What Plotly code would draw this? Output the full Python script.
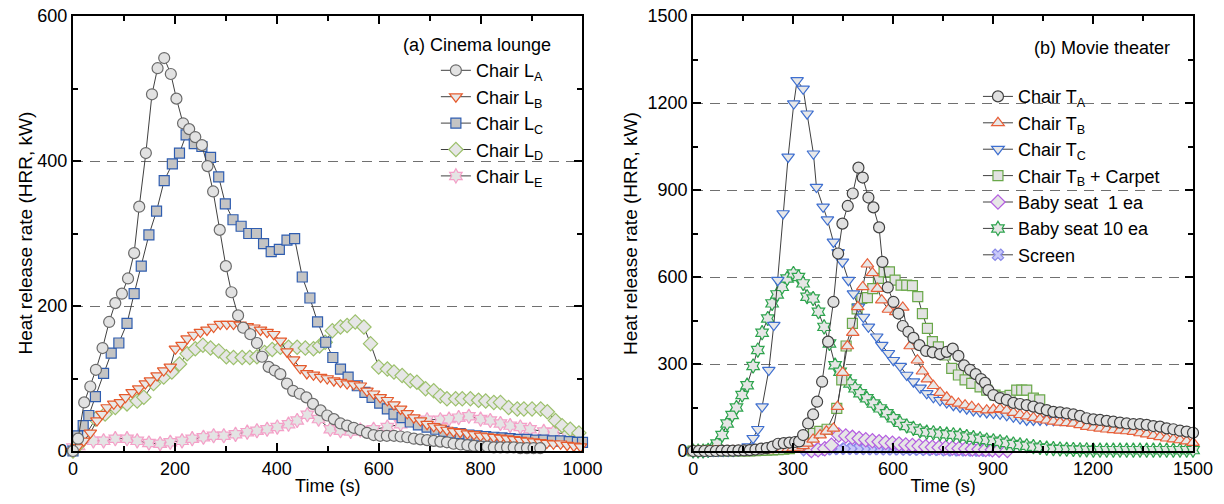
import plotly.graph_objects as go

# ---------------- (a) Cinema lounge : (time s, HRR kW) ----------------
chair_LA = [(0,0),(10,17),(22,67),(34,89),(45,112),(58,142),(71,178),(83,204),(96,217),(108,238),
            (120,273),(130,337),(143,411),(155,492),(166,528),(179,542),(192,520),(203,486),(216,452),
            (228,444),(240,433),(253,422),(264,393),(275,358),(288,305),(300,255),(311,219),(324,187),
            (334,170),(348,161),(361,149),(371,130),(384,116),(396,111),(407,106),(420,93),(432,83),
            (445,79),(458,74),(471,65),(486,56),(499,49),(512,44),(525,38),(538,35),(551,32),(564,29),
            (577,25),(590,22),(603,21),(616,21),(630,21),(643,20),(656,19),(669,17),(682,16),(695,15),
            (708,14),(721,13),(734,12),(747,10),(761,9),(774,8),(787,7),(800,6),(813,6),(826,5),
            (839,5),(852,5),(865,5),(878,4),(891,4),(904,4),(917,4)]
chair_LB = [(0,0),(8,5),(21,14),(34,25),(47,42),(57,51),(67,60),(80,65),(93,67),(103,74),(116,81),
            (129,86),(142,93),(152,97),(165,104),(178,111),(191,116),(201,141),(214,146),(224,155),
            (237,160),(250,164),(263,167),(276,171),(289,175),(302,175),(315,175),(328,174),(342,172),
            (355,170),(368,167),(381,164),(394,161),(407,152),(420,137),(433,126),(446,114),(459,107),
            (472,105),(486,102),(499,100),(512,97),(525,95),(538,93),(551,92),(564,90),(577,83),
            (590,79),(603,74),(617,70),(630,64),(643,58),(656,52),(669,46),(682,42),(695,37),(708,34),
            (721,32),(734,29),(747,27),(760,26),(774,24),(787,23),(800,21),(813,20),(826,19),(839,18),
            (852,17),(865,16),(878,15),(891,14),(904,13),(917,12),(930,11),(943,10),(957,10),(970,8),
            (983,7),(996,6)]
chair_LC = [(0,0),(9,21),(20,35),(31,49),(44,75),(60,107),(75,135),(90,149),(106,176),(120,217),
            (134,255),(149,298),(164,331),(179,373),(195,396),(209,411),(222,436),(238,424),(253,420),
            (270,405),(286,378),(299,341),(314,319),(330,310),(345,300),(360,300),(374,286),(389,275),
            (405,278),(420,291),(435,293),(450,240),(465,211),(480,178),(496,150),(510,129),(525,113),
            (540,102),(558,90),(573,81),(587,74),(602,66),(617,58),(630,51),(646,46),(662,40),(678,36),
            (695,33),(712,30),(728,27),(744,25),(760,24),(777,22),(793,21),(810,20),(826,19),(842,18),
            (858,17),(875,16),(891,16),(908,15),(924,15),(941,14),(957,14),(974,13),(990,12),(1000,12)]
chair_LD = [(0,0),(10,8),(24,21),(44,44),(63,51),(83,60),(106,65),(126,69),(139,74),(158,93),
            (178,102),(194,109),(209,120),(224,134),(240,141),(255,146),(270,142),(286,138),(301,130),
            (315,129),(332,129),(347,129),(361,130),(376,136),(391,140),(407,143),(423,143),(440,143),
            (456,142),(472,141),(484,145),(495,150),(509,166),(525,171),(538,173),(554,178),(571,171),
            (584,148),(600,116),(617,113),(630,109),(646,104),(662,97),(675,95),(692,86),(708,83),
            (721,76),(734,72),(751,72),(764,72),(780,72),(796,70),(810,69),(826,67),(839,67),(855,60),
            (872,58),(885,58),(901,58),(918,58),(931,54),(947,42),(960,35),(976,30),(993,25)]
chair_LE = [(0,5),(11,7),(40,14),(60,14),(83,17),(106,17),(126,14),(149,11),(171,10),(191,12),
            (214,14),(234,17),(256,19),(276,21),(296,21),(319,23),(342,26),(361,28),(381,30),(401,33),
            (423,37),(440,42),(460,50),(482,44),(505,30),(525,28),(545,27),(564,29),(590,30),(617,33),
            (643,37),(669,41),(695,43),(721,43),(738,44),(757,46),(777,48),(800,44),(819,42),(839,38),
            (858,35),(878,33),(897,30),(924,27),(943,26),(970,23),(990,21)]

# ---------------- (b) Movie theater : (time s, HRR kW) ----------------
chair_TA = [(0,0),(17,0),(34,0),(51,0),(68,0),(85,1),(102,1),(119,1),(136,2),(153,2),(170,3),
            (187,5),(204,8),(221,10),(238,15),(255,25),(272,27),(289,29),(306,31),(318,33),(330,55),
            (345,95),(360,126),(372,170),(387,239),(405,377),(421,514),(435,681),(448,784),(464,845),
            (479,888),(496,977),(509,943),(526,874),(541,840),(558,771),(568,652),(584,564),(601,514),
            (616,474),(629,431),(646,411),(661,390),(679,365),(699,345),(719,340),(741,334),(761,342),
            (779,353),(796,328),(813,295),(831,280),(848,265),(864,248),(876,235),(886,210),(901,193),
            (921,182),(941,176),(961,166),(981,162),(1001,158),(1021,153),(1041,147),(1061,141),
            (1081,135),(1101,133),(1121,130),(1141,126),(1161,121),(1181,113),(1201,109),(1221,107),
            (1241,104),(1261,101),(1281,98),(1301,95),(1321,93),(1341,93),(1361,90),(1381,86),
            (1401,84),(1421,78),(1441,75),(1461,70),(1481,67),(1500,63)]
chair_TB = [(0,0),(15,0),(30,0),(45,0),(60,0),(75,0),(90,0),(105,0),(120,0),(135,0),(150,0),(165,0),
            (180,1),(195,2),(210,3),(225,4),(240,5),(255,6),(270,7),(285,8),(300,10),(315,12),(330,18),
            (342,26),(360,40),(381,55),(400,68),(421,78),(433,153),(449,270),(463,362),(479,408),
            (494,497),(509,566),(523,644),(538,614),(553,560),(566,520),(586,488),(608,480),(629,495),
            (651,362),(673,313),(688,275),(703,248),(721,225),(741,201),(761,185),(776,170),(796,164),
            (816,158),(836,153),(856,145),(881,141),(901,143),(921,145),(941,140),(961,132),(981,125),
            (1001,120),(1021,115),(1041,110),(1061,106),(1081,102),(1101,99),(1121,97),(1141,95),
            (1161,90),(1181,84),(1201,81),(1221,78),(1241,75),(1261,73),(1281,71),(1301,69),(1321,67),
            (1341,62),(1361,58),(1381,53),(1401,49),(1421,44),(1441,41),(1461,38),(1481,34),(1500,29)]
chair_TC = [(0,0),(15,0),(30,0),(45,0),(60,0),(75,0),(90,0),(105,0),(120,0),(135,2),(150,5),(165,15),
            (180,44),(194,75),(207,153),(227,279),(242,434),(254,589),(270,819),(285,1014),(302,1198),
            (312,1278),(330,1249),(342,1163),(361,1025),(370,910),(390,842),(403,798),(421,721),
            (435,685),(448,652),(466,589),(481,543),(496,497),(511,462),(526,428),(551,394),(566,365),
            (586,337),(601,313),(621,293),(641,262),(661,239),(681,218),(701,199),(721,185),(741,175),
            (761,167),(781,158),(801,152),(821,146),(841,140),(861,136),(881,133),(901,131),(921,128),
            (941,123),(961,118),(981,112),(1001,107),(1021,107),(1041,107),(1061,107),(1081,106),
            (1101,106),(1121,105)]
chair_TB_carpet = [(0,0),(17,0),(34,0),(51,0),(68,0),(85,0),(102,0),(119,0),(136,0),(153,0),(170,0),
            (187,1),(204,2),(221,3),(238,4),(255,5),(272,6),(289,8),(306,12),(323,25),(342,45),(361,61),
            (380,68),(402,75),(431,147),(446,245),(459,362),(478,440),(492,490),(506,526),(523,529),
            (539,560),(556,595),(573,618),(589,618),(606,589),(624,572),(641,572),(658,570),(674,532),
            (688,474),(703,423),(718,377),(736,359),(756,331),(776,285),(796,262),(816,245),(836,233),
            (861,221),(881,210),(906,193),(931,187),(951,192),(971,210),(986,210),(1001,210),(1021,182),
            (1040,176)]
baby_seat_1 = [(355,2),(375,4),(395,8),(415,20),(437,55),(458,52),(478,47),(498,43),(518,39),(538,35),
            (558,32),(578,29),(598,27),(618,24),(638,21),(658,19),(678,17),(698,15),(718,13),(738,12),
            (758,11),(778,10),(798,9),(818,8),(838,7),(858,6),(878,5),(898,4),(918,3),(943,2)]
baby_seat_10 = [(0,0),(15,0),(30,0),(45,2),(57,8),(72,26),(87,55),(102,95),(117,124),(130,150),
            (147,193),(162,227),(180,293),(194,348),(207,408),(224,457),(237,509),(252,540),(267,566),
            (282,595),(301,612),(316,600),(330,578),(342,532),(360,526),(376,480),(393,428),(409,371),
            (426,296),(441,273),(456,250),(471,233),(486,216),(501,199),(521,182),(541,164),(561,147),
            (581,130),(601,113),(621,97),(641,86),(661,78),(681,70),(701,65),(721,63),(741,60),(761,58),
            (781,56),(801,54),(821,50),(841,46),(861,42),(881,38),(901,35),(921,32),(941,28),(961,24),
            (981,21),(1001,18),(1021,15),(1041,12),(1061,10),(1081,8),(1101,7),(1121,6),(1141,5),
            (1161,4),(1181,4),(1201,3),(1221,3),(1241,3),(1261,3),(1281,3),(1301,3),(1321,3),(1341,3),
            (1361,3),(1381,3),(1401,3),(1421,3),(1441,3),(1461,3),(1481,3),(1500,3)]
screen = [(340,3),(360,4),(380,5),(400,6),(420,7),(440,8),(460,8),(480,8),(500,8),(520,7),(540,7),
          (560,7),(580,6),(600,6),(620,6),(640,5),(660,5),(680,5),(700,4),(720,4),(740,4),(760,3),
          (780,3),(800,3),(820,3),(840,2),(860,2),(880,2)]

left_ticks = [0, 200, 400, 600, 800, 1000]
left_yticks = [0, 200, 400, 600]
right_ticks = [0, 300, 600, 900, 1200, 1500]

FONT = "Liberation Sans, Arial, sans-serif"
LINE = "#404040"

fig = go.Figure()


def add(series, name, symbol, fill, edge, size, xa, ya, legend, rank):
    t = [p[0] for p in series]
    v = [p[1] for p in series]
    fig.add_trace(go.Scatter(
        x=t, y=v, name=name, mode="lines+markers",
        line=dict(color=LINE, width=1),
        marker=dict(symbol=symbol, size=size, color=fill, line=dict(color=edge, width=1.2)),
        xaxis=xa, yaxis=ya, legend=legend, legendrank=rank, cliponaxis=False))


# drawing order (bottom -> top); legend order set by legendrank
add(chair_LE, "Chair L<sub>E</sub>", "hexagram", "#e4e4e4", "#f4a0c8", 11, "x", "y", "legend", 5)
add(chair_LD, "Chair L<sub>D</sub>", "diamond", "#e6e6e6", "#9cc06c", 11, "x", "y", "legend", 4)
add(chair_LC, "Chair L<sub>C</sub>", "square", "#c4c4c4", "#2f5db0", 10, "x", "y", "legend", 3)
add(chair_LB, "Chair L<sub>B</sub>", "triangle-down", "#e8e8e8", "#e55a2c", 11, "x", "y", "legend", 2)
add(chair_LA, "Chair L<sub>A</sub>", "circle", "#e2e2e2", "#6a6a6a", 11, "x", "y", "legend", 1)

add(screen, "Screen", "x", "#c8c8f8", "#8a8ae8", 10, "x2", "y2", "legend2", 7)
add(baby_seat_1, "Baby seat  1 ea", "diamond", "#e6e6e6", "#b45ee0", 11, "x2", "y2", "legend2", 5)
add(baby_seat_10, "Baby seat 10 ea", "hexagram", "#e6e6e6", "#2ea44e", 11, "x2", "y2", "legend2", 6)
add(chair_TB_carpet, "Chair T<sub>B</sub> + Carpet", "square", "#e2e2e2", "#6aa84a", 10, "x2", "y2", "legend2", 4)
add(chair_TC, "Chair T<sub>C</sub>", "triangle-down", "#e8e8e8", "#3e6fd0", 11, "x2", "y2", "legend2", 3)
add(chair_TB, "Chair T<sub>B</sub>", "triangle-up", "#e8e8e8", "#e8603a", 11, "x2", "y2", "legend2", 2)
add(chair_TA, "Chair T<sub>A</sub>", "circle", "#e0e0e0", "#404040", 11, "x2", "y2", "legend2", 1)

ax_common = dict(showline=True, linecolor="black", linewidth=2, mirror="ticks",
                 ticks="inside", ticklen=8, tickwidth=1.5, tickcolor="black",
                 zeroline=False, automargin=False,
                 tickfont=dict(family=FONT, size=18, color="black"))

fig.update_layout(
    width=1224, height=504,
    margin=dict(l=73, r=31, t=16, b=53),
    plot_bgcolor="white", paper_bgcolor="white",
    font=dict(family=FONT, size=18, color="black"),
    xaxis=dict(domain=[0, 0.4549], range=[0, 1000], tickvals=left_ticks, showgrid=False,
               minor=dict(dtick=100, ticks="inside", ticklen=5, tickcolor="black", showgrid=False),
               title=dict(text="Time (s)", standoff=2, font=dict(size=18)), anchor="y", **ax_common),
    yaxis=dict(domain=[0, 1], range=[0, 600], tickvals=left_yticks, showgrid=True,
               gridcolor="#707070", griddash="10px,7px", gridwidth=1.2,
               minor=dict(dtick=100, ticks="inside", ticklen=5, tickcolor="black", showgrid=False),
               anchor="x", **ax_common),
    xaxis2=dict(domain=[0.5537, 1], range=[0, 1500], tickvals=right_ticks, showgrid=False,
                minor=dict(dtick=150, ticks="inside", ticklen=5, tickcolor="black", showgrid=False),
                title=dict(text="Time (s)", standoff=2, font=dict(size=18)), anchor="y2", **ax_common),
    yaxis2=dict(domain=[0, 1], range=[0, 1500], tickvals=right_ticks, showgrid=True,
                gridcolor="#707070", griddash="10px,7px", gridwidth=1.2,
                minor=dict(dtick=150, ticks="inside", ticklen=5, tickcolor="black", showgrid=False),
                anchor="x2", **ax_common),
    legend=dict(x=0.324, y=0.917, xanchor="left", yanchor="top", bgcolor="rgba(0,0,0,0)",
                font=dict(family=FONT, size=18), tracegroupgap=0, itemwidth=30),
    legend2=dict(x=0.808, y=0.857, xanchor="left", yanchor="top", bgcolor="rgba(0,0,0,0)",
                 font=dict(family=FONT, size=18), tracegroupgap=0, itemwidth=30),
    annotations=[
        dict(text="(a) Cinema lounge", x=0.4282, y=0.9333, xref="paper", yref="paper",
             xanchor="right", yanchor="middle", showarrow=False, font=dict(size=18)),
        dict(text="(b) Movie theater", x=0.9813, y=0.9264, xref="paper", yref="paper",
             xanchor="right", yanchor="middle", showarrow=False, font=dict(size=18)),
        dict(text="Heat release rate (HRR, kW)", x=-0.0428, y=0.5, xref="paper", yref="paper",
             textangle=-90, xanchor="center", yanchor="middle", showarrow=False, font=dict(size=19)),
        dict(text="Heat release rate (HRR, kW)", x=0.4978, y=0.5, xref="paper", yref="paper",
             textangle=-90, xanchor="center", yanchor="middle", showarrow=False, font=dict(size=19)),
    ],
)

# remove the default 8 px page margin so the figure fills the window exactly; hide the modebar
fig.write_html("out.html", config={"displayModeBar": False},
               post_script="document.body.style.margin='0';")
